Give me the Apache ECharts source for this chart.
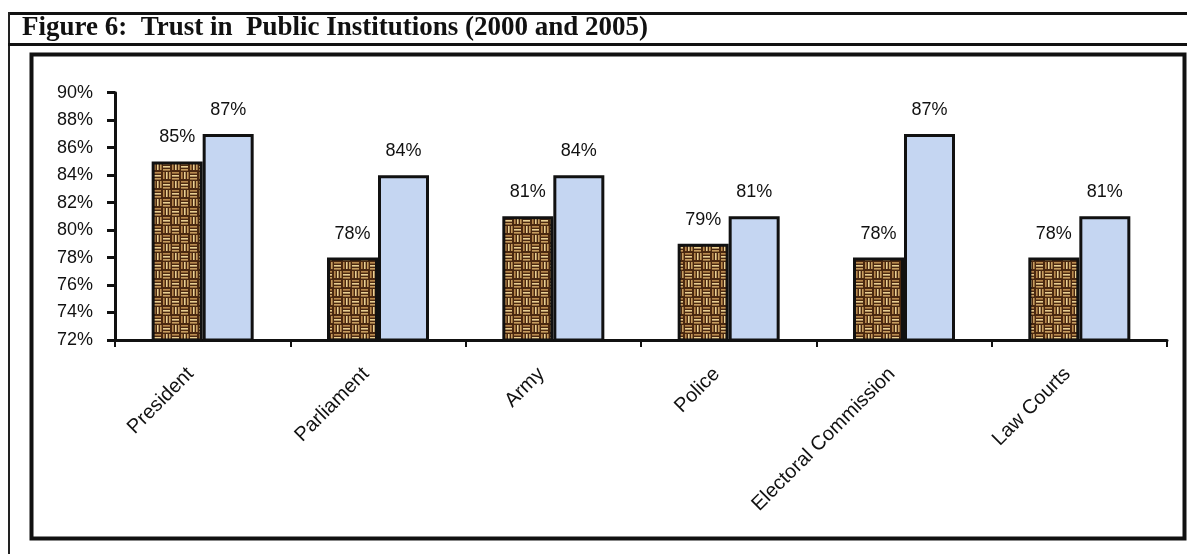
<!DOCTYPE html>
<html>
<head>
<meta charset="utf-8">
<title>Trust in Public Institutions (2000 and 2005)</title>
<script src="https://cdn.jsdelivr.net/npm/echarts@6/dist/echarts.min.js"></script>
<style>
  html, body { margin: 0; padding: 0; background: #ffffff; }
  #chart { width: 1187px; height: 554px; }
</style>
</head>
<body>
<div id="chart"></div>
<script>
// Institutions on the category axis
const institutions = ['President', 'Parliament', 'Army', 'Police', 'Electoral Commission', 'Law Courts'];
// Share of respondents trusting each institution (%)
const trust2000 = [85, 78, 81, 79, 78, 78];
const trust2005 = [87, 84, 84, 81, 87, 81];
// Value axis range (%)
const axisMin = 72;
const axisMax = 90;
const axisStep = 2;
const titleText = 'Figure 6:  Trust in  Public Institutions (2000 and 2005)';

// Basket-weave fill for the 2000 bars: blocks of short tan strokes,
// alternating horizontal and vertical, over a dark brown ground
function weavePattern() {
  const c = document.createElement('canvas');
  const cell = 9;
  c.width = cell * 2;
  c.height = cell * 2;
  const ctx = c.getContext('2d');
  ctx.fillStyle = '#4a2810';
  ctx.fillRect(0, 0, c.width, c.height);
  const tones = ['#b98a4e', '#ead092', '#c79d5f'];
  for (let i = 0; i < 2; i++) {
    for (let j = 0; j < 2; j++) {
      const x0 = i * cell, y0 = j * cell;
      const horizontal = (i + j) % 2 === 0;
      for (let k = 0; k < 3; k++) {
        ctx.fillStyle = tones[k];
        if (horizontal) {
          ctx.fillRect(x0 + 1, y0 + 1 + k * 3, cell - 2, 1.6);
        } else {
          ctx.fillRect(x0 + 1 + k * 3, y0 + 1, 1.6, cell - 2);
        }
      }
    }
  }
  return c;
}

const chart = echarts.init(document.getElementById('chart'), null, { renderer: 'canvas' });

const labelStyle = {
  show: true,
  position: 'top',
  distance: 15,
  formatter: '{c}%',
  color: '#111',
  fontFamily: 'Arial, "Liberation Sans", sans-serif',
  fontSize: 18
};

chart.setOption({
  animation: false,
  backgroundColor: '#ffffff',
  grid: { left: 115, right: 20, top: 92.7, bottom: 214, containLabel: false },
  xAxis: {
    type: 'category',
    data: institutions,
    boundaryGap: true,
    axisLine: { lineStyle: { color: '#111', width: 3 } },
    axisTick: { show: true, length: 7, lineStyle: { color: '#111', width: 2 } },
    axisLabel: {
      rotate: 45,
      margin: 19,
      padding: [0, 17, 0, 0],
      color: '#111',
      fontFamily: 'Arial, "Liberation Sans", sans-serif',
      fontSize: 20
    }
  },
  yAxis: {
    type: 'value',
    min: axisMin,
    max: axisMax,
    interval: axisStep,
    axisLine: { show: true, lineStyle: { color: '#111', width: 3 } },
    axisTick: { show: true, length: 8, lineStyle: { color: '#111', width: 3 } },
    splitLine: { show: false },
    axisLabel: {
      formatter: '{value}%',
      margin: 22,
      color: '#111',
      fontFamily: 'Arial, "Liberation Sans", sans-serif',
      fontSize: 18
    }
  },
  series: [
    {
      name: '2000',
      type: 'bar',
      data: trust2000,
      barWidth: 51,
      barGap: '0%',
      itemStyle: {
        color: { image: weavePattern(), repeat: 'repeat' },
        borderColor: '#111',
        borderWidth: 3
      },
      label: labelStyle
    },
    {
      name: '2005',
      type: 'bar',
      data: trust2005,
      barWidth: 51,
      barGap: '0%',
      itemStyle: { color: '#c5d6f2', borderColor: '#111', borderWidth: 3 },
      label: labelStyle
    }
  ],
  graphic: [
    // figure header frame
    { type: 'line', shape: { x1: 8, y1: 13.5, x2: 1187, y2: 13.5 }, style: { stroke: '#111', lineWidth: 3 } },
    { type: 'line', shape: { x1: 9, y1: 12, x2: 9, y2: 554 }, style: { stroke: '#222', lineWidth: 2 } },
    { type: 'line', shape: { x1: 8, y1: 44.5, x2: 1187, y2: 44.5 }, style: { stroke: '#111', lineWidth: 3 } },
    {
      type: 'text', left: 22, top: 15,
      style: {
        text: titleText,
        font: 'bold 27px "Liberation Serif", "Times New Roman", serif',
        fill: '#111'
      }
    },
    // inner chart border
    { type: 'rect', shape: { x: 31.5, y: 54.5, width: 1153, height: 484 }, style: { fill: 'none', stroke: '#111', lineWidth: 4 }, z: -1 }
  ]
});
</script>
</body>
</html>
